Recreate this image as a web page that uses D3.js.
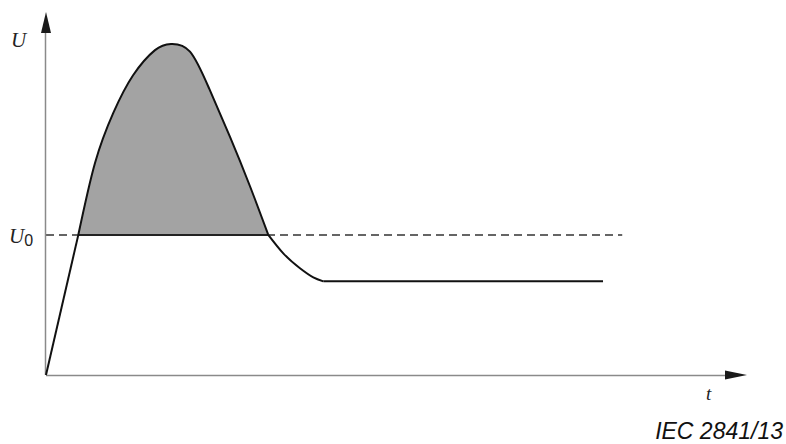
<!DOCTYPE html>
<html>
<head>
<meta charset="utf-8">
<script src="https://cdn.jsdelivr.net/npm/d3@7"></script>
<style>
  html, body { margin: 0; padding: 0; background: #fff; }
  svg { display: block; }
</style>
</head>
<body>
<div id="chart"></div>
<script>
// ---- Data (abstract units: t 0..100, U 0..100) ----
const U0 = 38.6;
const riseT = [0, 4.61];
const riseU = [0, 38.6];
const pulseT = [4.61, 6.99, 9.60, 12.4, 15.55, 17.83, 20.54, 23.3, 26.25, 29.1, 31.71];
const pulseU = [38.6, 58.4, 72.2, 82.5, 89.5, 91.2, 89.1, 78.8, 65.6, 52.0, 38.6];
const decayT = [31.71, 33.85, 36.23, 38.13, 39.56];
const decayU = [38.6, 33.5, 29.4, 26.9, 25.8];
const plateauT = [39.56, 79.46];
const plateauU = [25.8, 25.8];
const dashedT = [0, 82.2];
const axisLabels = { y: "U", x: "t", ref: "U", refSub: "0" };
const caption = "IEC 2841/13";

const W = 786, H = 444;
const x = d3.scaleLinear().domain([0, 100]).range([46, 747]);
const y = d3.scaleLinear().domain([0, 100]).range([375, 12]);

const svg = d3.select("#chart").append("svg").attr("width", W).attr("height", H);
const zip = (a, b) => a.map((v, i) => [v, b[i]]);

const area = d3.area().x(d => x(d[0])).y0(y(U0)).y1(d => y(d[1])).curve(d3.curveNatural);
svg.append("path").datum(zip(pulseT, pulseU))
  .attr("d", area).attr("fill", "#a3a3a3");

// dashed U0 line
svg.append("line")
  .attr("x1", x(dashedT[0])).attr("x2", x(dashedT[1]))
  .attr("y1", y(U0)).attr("y2", y(U0))
  .attr("stroke", "#333").attr("stroke-width", 1.5)
  .attr("stroke-dasharray", "8,5");
// solid base of shaded region
svg.append("line")
  .attr("x1", x(pulseT[0])).attr("x2", x(pulseT[pulseT.length - 1]))
  .attr("y1", y(U0)).attr("y2", y(U0))
  .attr("stroke", "#222").attr("stroke-width", 2);

// axes (no ticks)
const xAxis = d3.axisBottom(x).tickValues([]).tickSizeOuter(0);
const yAxis = d3.axisLeft(y).tickValues([]).tickSizeOuter(0);
const gx = svg.append("g").attr("transform", `translate(0,${y(0)})`).call(xAxis);
const gy = svg.append("g").attr("transform", `translate(${x(0)},0)`).call(yAxis);
[gx, gy].forEach(g => g.select(".domain").attr("stroke", "#8a8a8a").attr("stroke-width", 1.5));
gx.select(".domain").attr("d", `M${x(0)},0.5H${x(100) - 18}`);
gy.select(".domain").attr("d", `M-0.5,${y(0)}V${y(100) + 18}`);

// arrowheads
svg.append("path")
  .attr("d", `M${x(0)},${y(100)} L${x(0) - 5},${y(100) + 21} L${x(0) + 5},${y(100) + 21} Z`)
  .attr("fill", "#1a1a1a");
svg.append("path")
  .attr("d", `M${x(100)},${y(0)} L${x(100) - 22},${y(0) - 4.5} L${x(100) - 22},${y(0) + 4.5} Z`)
  .attr("fill", "#1a1a1a");

// curve pieces
const lineLin = d3.line().x(d => x(d[0])).y(d => y(d[1]));
const lineNat = d3.line().x(d => x(d[0])).y(d => y(d[1])).curve(d3.curveNatural);
const lineMono = d3.line().x(d => x(d[0])).y(d => y(d[1])).curve(d3.curveMonotoneX);
const stroke = p => p.attr("fill", "none").attr("stroke", "#111").attr("stroke-width", 2).attr("stroke-linejoin", "round");
svg.append("path").datum(zip(riseT, riseU)).attr("d", lineLin).call(stroke);
svg.append("path").datum(zip(pulseT, pulseU)).attr("d", lineNat).call(stroke);
svg.append("path").datum(zip(decayT, decayU)).attr("d", lineMono).call(stroke);
svg.append("path").datum(zip(plateauT, plateauU)).attr("d", lineLin).call(stroke);

// labels
svg.append("text").attr("x", 11).attr("y", 47)
  .attr("font-family", "'Liberation Serif', serif").attr("font-style", "italic")
  .attr("font-size", 21).attr("fill", "#222").text(axisLabels.y);
const u0 = svg.append("text").attr("x", 9).attr("y", 243)
  .attr("font-family", "'Liberation Serif', serif").attr("font-style", "italic")
  .attr("font-size", 21).attr("fill", "#222");
u0.append("tspan").text(axisLabels.ref);
u0.append("tspan").attr("font-style", "normal").attr("font-family", "'Liberation Sans', sans-serif")
  .attr("font-size", 16).attr("dy", 3).text(axisLabels.refSub);
svg.append("text").attr("x", 706).attr("y", 400)
  .attr("font-family", "'Liberation Serif', serif").attr("font-style", "italic")
  .attr("font-size", 19).attr("fill", "#222").text(axisLabels.x);
svg.append("text").attr("x", 783).attr("y", 439).attr("text-anchor", "end")
  .attr("font-family", "'Liberation Sans', Arial, sans-serif").attr("font-style", "italic")
  .attr("font-size", 23).attr("fill", "#111").text(caption);
</script>
</body>
</html>
